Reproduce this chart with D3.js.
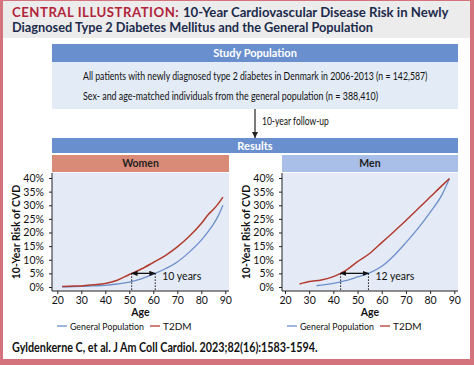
<!DOCTYPE html>
<html>
<head>
<meta charset="utf-8">
<script src="https://cdn.jsdelivr.net/npm/d3@7"></script>
<style>
  body { margin: 0; background: #fff; }
  svg { display: block; font-family: Lato, "Noto Sans", sans-serif; }
</style>
</head>
<body>
<svg id="chart" width="474" height="365"></svg>
<script>
// women curves
const womenAges = [22, 25, 30, 35, 40, 45, 50, 55, 60, 65, 70, 75, 80, 83, 85, 87, 89];
const womenGP = [0.1, 0.1, 0.2, 0.4, 0.6, 1.1, 1.8, 3.0, 4.7, 6.7, 9.2, 12.8, 17.2, 20.5, 23, 26, 30];
const womenT2DM = [0.2, 0.3, 0.4, 0.8, 1.3, 2.5, 4.6, 6.6, 9, 11.5, 14.7, 18.6, 23.3, 26.7, 28.4, 30.5, 33];

// men curves
const menGPAges = [33, 35, 40, 45, 50, 55, 60, 65, 70, 75, 80, 85, 88];
const menGP = [0.5, 0.7, 1.3, 2.3, 3.7, 5.2, 7.6, 11.5, 16.3, 21.5, 27.4, 34, 39.8];
const menT2DMAges = [26, 30, 35, 40, 43, 45, 50, 55, 60, 65, 70, 75, 80, 85, 88];
const menT2DM = [1.1, 2, 2.6, 3.8, 5, 6, 9.3, 12.3, 16.3, 20.3, 24.4, 28.7, 33, 37.3, 39.8];

const xTicks = [20, 30, 40, 50, 60, 70, 80, 90];
const yTicks = [0, 5, 10, 15, 20, 25, 30, 35, 40];

// age gap annotations at 5% risk
const womenGap = { from: 51, to: 60.8, label: "10 years" };
const menGap = { from: 43, to: 54.5, label: "12 years" };

const blue = "#6c8fcc", red = "#b33a2e";

const svg = d3.select("#chart");

// scale a text's font so it spans the given width
function fit(sel, width) {
  const w = sel.node().getComputedTextLength();
  const fs = +sel.attr("font-size");
  sel.attr("font-size", (fs * width / w).toFixed(2));
  return sel;
}
// narrow-font look: text at (x,y), squeezed horizontally into width
function narrowText(parent, x, y, width, size, str, bold) {
  const t = parent.append("text").attr("font-size", size).attr("fill", "#111")
    .attr("font-weight", bold ? "bold" : null).text(str);
  const k = width / t.node().getComputedTextLength();
  t.attr("transform", `translate(${x},${y}) scale(${k.toFixed(3)},1)`);
  return t;
}

// frame
svg.append("rect").attr("x", 0).attr("y", 0).attr("width", 474).attr("height", 365).attr("fill", "#d4737c");
svg.append("rect").attr("x", 3).attr("y", 1).attr("width", 467).attr("height", 358).attr("fill", "#fff");
svg.append("rect").attr("x", 3).attr("y", 1).attr("width", 467).attr("height", 37).attr("fill", "#ececec");

const title = svg.append("text").attr("x", 12).attr("y", 17)
  .attr("font-size", 14).attr("font-weight", "bold").attr("fill", "#1c2b4c");
title.append("tspan").attr("fill", "#b3243a").attr("letter-spacing", 0.5).text("CENTRAL ILLUSTRATION: ");
title.append("tspan").text("10-Year Cardiovascular Disease Risk in Newly");
fit(title, 436);
fit(svg.append("text").attr("x", 12).attr("y", 32)
  .attr("font-size", 14).attr("font-weight", "bold").attr("fill", "#1c2b4c")
  .text("Diagnosed Type 2 Diabetes Mellitus and the General Population"), 361);

// study population box
svg.append("rect").attr("x", 52).attr("y", 44).attr("width", 406).attr("height", 18).attr("fill", "#6a8fcf");
svg.append("text").attr("x", 255).attr("y", 57).attr("text-anchor", "middle")
  .attr("font-size", 11).attr("font-weight", "bold").attr("fill", "#fff").text("Study Population");
svg.append("rect").attr("x", 52).attr("y", 62).attr("width", 406).attr("height", 47).attr("fill", "#e3ebf6");
narrowText(svg, 83, 80, 345, 10.5,
  "All patients with newly diagnosed type 2 diabetes in Denmark in 2006-2013 (n = 142,587)");
narrowText(svg, 83, 100, 295, 10.5,
  "Sex- and age-matched individuals from the general population (n = 388,410)");

// follow-up arrow
svg.append("defs").append("marker").attr("id", "down")
  .attr("viewBox", "0 0 10 10").attr("refX", 10).attr("refY", 5)
  .attr("markerWidth", 5).attr("markerHeight", 5).attr("orient", "auto")
  .append("path").attr("d", "M0,0L10,5L0,10Z").attr("fill", "#222");
svg.append("line").attr("x1", 255).attr("x2", 255).attr("y1", 109).attr("y2", 138)
  .attr("stroke", "#222").attr("stroke-width", 1.2).attr("marker-end", "url(#down)");
narrowText(svg, 262, 125, 67, 10.5, "10-year follow-up");

// results band
svg.append("rect").attr("x", 52).attr("y", 138).attr("width", 406).attr("height", 15).attr("fill", "#6a8fcf");
svg.append("text").attr("x", 255).attr("y", 149.5).attr("text-anchor", "middle")
  .attr("font-size", 11).attr("font-weight", "bold").attr("fill", "#fff").text("Results");

// arrow markers for annotations
const defs = svg.select("defs");
defs.append("marker").attr("id", "tip")
  .attr("viewBox", "0 0 10 10").attr("refX", 9).attr("refY", 5)
  .attr("markerWidth", 5).attr("markerHeight", 5).attr("orient", "auto-start-reverse")
  .append("path").attr("d", "M0,1L10,5L0,9Z").attr("fill", "#111");

function panel(opt) {
  const g = svg.append("g");
  const x = d3.scaleLinear().domain([20, 90]).range([opt.x0, opt.x1]);
  const y = d3.scaleLinear().domain([0, 40]).range([287, 178]);

  g.append("rect").attr("x", opt.left).attr("y", 155).attr("width", opt.right - opt.left).attr("height", 17)
    .attr("fill", opt.headFill);
  g.append("text").attr("x", (opt.left + opt.right) / 2).attr("y", 167).attr("text-anchor", "middle")
    .attr("font-size", 10.5).attr("font-weight", "bold").attr("fill", "#222").text(opt.name);

  g.append("rect").attr("x", opt.left).attr("y", 173).attr("width", opt.right - opt.left).attr("height", 118)
    .attr("fill", "#e4ebf6");

  const yAxis = g.append("g").attr("transform", `translate(${opt.left},0)`)
    .call(d3.axisLeft(y).tickValues(yTicks).tickFormat(d => d + "%").tickSize(3).tickSizeOuter(0));
  yAxis.select(".domain").remove();
  g.append("line").attr("x1", opt.left).attr("x2", opt.left).attr("y1", 173).attr("y2", 291).attr("stroke", "#222");

  const xAxis = g.append("g").attr("transform", "translate(0,291)")
    .call(d3.axisBottom(x).tickValues(xTicks).tickSize(3).tickSizeOuter(0));
  xAxis.select(".domain").remove();
  g.append("line").attr("x1", opt.left).attr("x2", opt.right).attr("y1", 291).attr("y2", 291).attr("stroke", "#222");

  g.selectAll(".tick text").attr("font-size", 10.5).attr("fill", "#111")
    .attr("font-family", "Lato, 'Noto Sans', sans-serif");
  yAxis.selectAll(".tick text").attr("dx", "-0.2em");
  g.selectAll(".tick line").attr("stroke", "#222");

  g.append("text").attr("x", (opt.left + opt.right) / 2).attr("y", 316).attr("text-anchor", "middle")
    .attr("font-size", 10.5).attr("font-weight", "bold").attr("fill", "#111").text("Age");
  g.append("text").attr("transform", `translate(${opt.left - 32.5},232) rotate(-90)`).attr("text-anchor", "middle")
    .attr("font-size", 10.5).attr("font-weight", "bold").attr("fill", "#111").text("10-Year Risk of CVD");

  const line = d3.line().x(d => x(d[0])).y(d => y(d[1])).curve(d3.curveMonotoneX);
  g.append("path").datum(d3.zip(opt.gpAges, opt.gp)).attr("d", line)
    .attr("fill", "none").attr("stroke", blue).attr("stroke-width", 1.3);
  g.append("path").datum(d3.zip(opt.t2Ages, opt.t2)).attr("d", line)
    .attr("fill", "none").attr("stroke", red).attr("stroke-width", 1.5);

  const gap = opt.gap;
  [gap.from, gap.to].forEach(a => {
    g.append("line").attr("x1", x(a)).attr("x2", x(a)).attr("y1", y(5)).attr("y2", 291)
      .attr("stroke", "#111").attr("stroke-dasharray", "1.5,1.5");
  });
  g.append("line").attr("x1", x(gap.from)).attr("x2", x(gap.to)).attr("y1", y(5)).attr("y2", y(5))
    .attr("stroke", "#111").attr("stroke-width", 1.3)
    .attr("marker-start", "url(#tip)").attr("marker-end", "url(#tip)");
  g.append("text").attr("x", x(gap.to) + 7).attr("y", y(5) + 7).attr("font-size", 10.5).attr("fill", "#111").text(gap.label);

  // legend
  const lg = g.append("g").attr("transform", `translate(${opt.left + 5},326)`);
  lg.append("line").attr("x1", 0).attr("x2", 10).attr("stroke", blue).attr("stroke-width", 1.3);
  narrowText(lg, 13, 3.5, 74, 10, "General Population");
  lg.append("line").attr("x1", 93).attr("x2", 103).attr("stroke", red).attr("stroke-width", 1.3);
  lg.append("text").attr("x", 106).attr("y", 3.5).attr("font-size", 10).attr("fill", "#111").text("T2DM");
}

panel({ name: "Women", left: 52, right: 229, x0: 57.3, x1: 225.3, headFill: "#d98b77",
  gpAges: womenAges, gp: womenGP, t2Ages: womenAges, t2: womenT2DM, gap: womenGap });
panel({ name: "Men", left: 282, right: 458, x0: 285, x1: 454.3, headFill: "#a9bfe8",
  gpAges: menGPAges, gp: menGP, t2Ages: menT2DMAges, t2: menT2DM, gap: menGap });

narrowText(svg, 12, 352, 306, 12.5, "Gyldenkerne C, et al. J Am Coll Cardiol. 2023;82(16):1583-1594.", true);
</script>
</body>
</html>
